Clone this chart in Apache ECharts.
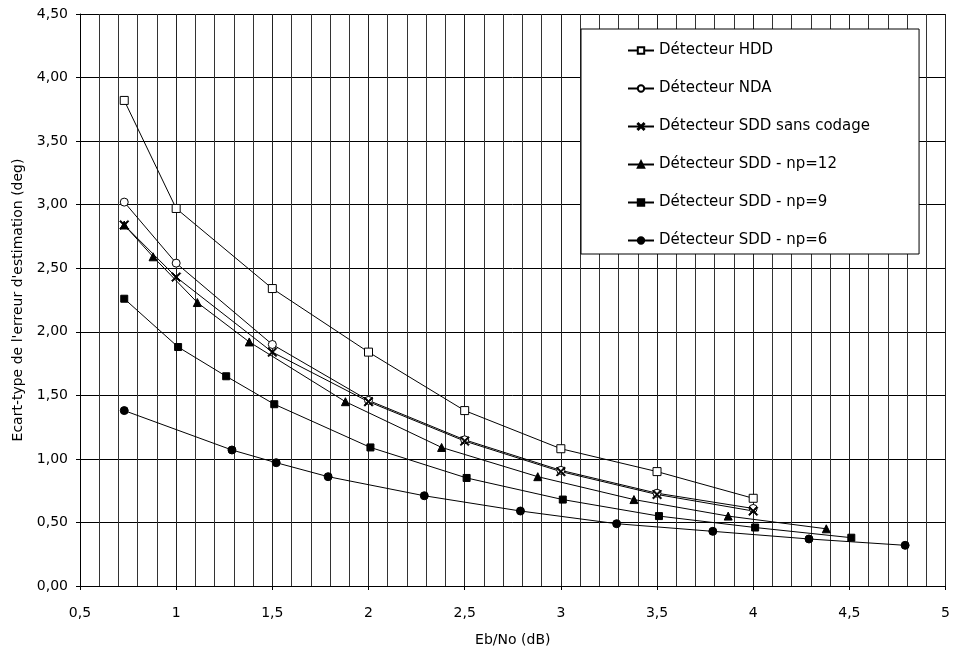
<!DOCTYPE html>
<html>
<head>
<meta charset="utf-8">
<script src="https://cdn.jsdelivr.net/npm/echarts@6/dist/echarts.min.js"></script>
<style>
  html, body { margin: 0; padding: 0; background: #fff; }
  #chart { width: 953px; height: 654px; }
</style>
</head>
<body>
<div id="chart"></div>
<script>
// Eb/No (dB) values
const xMain = [0.73, 1, 1.5, 2, 2.5, 3, 3.5, 4]
const x12 = [0.73, 0.88, 1.11, 1.38, 1.88, 2.38, 2.88, 3.38, 3.87, 4.38]
const x9 = [0.73, 1.01, 1.26, 1.51, 2.01, 2.51, 3.01, 3.51, 4.01, 4.51]
const x6 = [0.73, 1.29, 1.52, 1.79, 2.29, 2.79, 3.29, 3.79, 4.29, 4.79]

// écart-type (deg)
const hdd = [3.82, 2.97, 2.34, 1.84, 1.38, 1.08, 0.90, 0.69]
const nda = [3.02, 2.54, 1.90, 1.46, 1.15, 0.91, 0.73, 0.61]
const sddSans = [2.84, 2.43, 1.84, 1.45, 1.14, 0.90, 0.72, 0.59]
const sdd12 = [2.84, 2.59, 2.23, 1.92, 1.45, 1.09, 0.86, 0.68, 0.55, 0.45]
const sdd9 = [2.26, 1.88, 1.65, 1.43, 1.09, 0.85, 0.68, 0.55, 0.46, 0.38]
const sdd6 = [1.38, 1.07, 0.97, 0.86, 0.71, 0.59, 0.49, 0.43, 0.37, 0.32]

const names = [
  'Détecteur HDD',
  'Détecteur NDA',
  'Détecteur SDD sans codage',
  'Détecteur SDD - np=12',
  'Détecteur SDD - np=9',
  'Détecteur SDD - np=6',
]

const FONT = 'DejaVu Sans, Arial, sans-serif'
const CROSS = 'path://M0,1L1,0L5,4L9,0L10,1L6,5L10,9L9,10L5,6L1,10L0,9L4,5Z'

const zip = (xs, ys) => xs.map((x, i) => [x, ys[i]])

const makeSeries = (name, data, symbol, size, fill) => ({
  name,
  type: 'line',
  data,
  symbol,
  symbolSize: size,
  showAllSymbol: true,
  lineStyle: { color: '#000', width: 1 },
  itemStyle: { color: fill, borderColor: '#000', borderWidth: 1 },
  emphasis: { disabled: true },
  animation: false,
})

const chart = echarts.init(document.getElementById('chart'))
chart.setOption({
  backgroundColor: '#fff',
  animation: false,
  textStyle: { fontFamily: FONT },
  grid: { left: 80, right: 6, top: 14, bottom: 68 },
  legend: {
    orient: 'vertical',
    left: 581,
    top: 29,
    padding: [14, 49, 6, 46],
    itemGap: 23,
    itemWidth: 26,
    itemHeight: 8,
    backgroundColor: '#fff',
    borderColor: '#000',
    borderWidth: 1,
    borderRadius: 0,
    textStyle: { fontSize: 15, color: '#000', fontFamily: FONT },
    data: names,
  },
  xAxis: {
    type: 'value',
    min: 0.5,
    max: 5,
    interval: 0.5,
    name: 'Eb/No (dB)',
    nameLocation: 'middle',
    nameGap: 47,
    nameTextStyle: { fontSize: 14, color: '#000', fontFamily: FONT },
    axisLine: { show: true, lineStyle: { color: '#000' } },
    axisTick: { show: true, length: 4, lineStyle: { color: '#000' } },
    axisLabel: {
      color: '#000', fontSize: 14, margin: 20, fontFamily: FONT,
      formatter: v => String(v).replace('.', ','),
    },
    splitLine: { show: true, lineStyle: { color: '#222', width: 1 } },
    minorTick: { show: false, splitNumber: 5 },
    minorSplitLine: { show: true, lineStyle: { color: '#333', width: 1 } },
  },
  yAxis: {
    type: 'value',
    min: 0,
    max: 4.5,
    interval: 0.5,
    name: "Ecart-type de l'erreur d'estimation (deg)",
    nameLocation: 'middle',
    nameGap: 55,
    nameTextStyle: { fontSize: 14, color: '#000', fontFamily: FONT },
    axisLine: { show: true, lineStyle: { color: '#000' } },
    axisTick: { show: true, length: 4, lineStyle: { color: '#000' } },
    axisLabel: {
      color: '#000', fontSize: 14, margin: 12, fontFamily: FONT,
      formatter: v => v.toFixed(2).replace('.', ','),
    },
    splitLine: { show: true, lineStyle: { color: '#000', width: 1 } },
  },
  series: [
    makeSeries(names[0], zip(xMain, hdd), 'rect', 8, '#fff'),
    makeSeries(names[1], zip(xMain, nda), 'circle', 8, '#fff'),
    makeSeries(names[2], zip(xMain, sddSans), CROSS, 9, '#000'),
    makeSeries(names[3], zip(x12, sdd12), 'triangle', 8, '#000'),
    makeSeries(names[4], zip(x9, sdd9), 'rect', 7, '#000'),
    makeSeries(names[5], zip(x6, sdd6), 'circle', 8, '#000'),
  ],
})
</script>
</body>
</html>
